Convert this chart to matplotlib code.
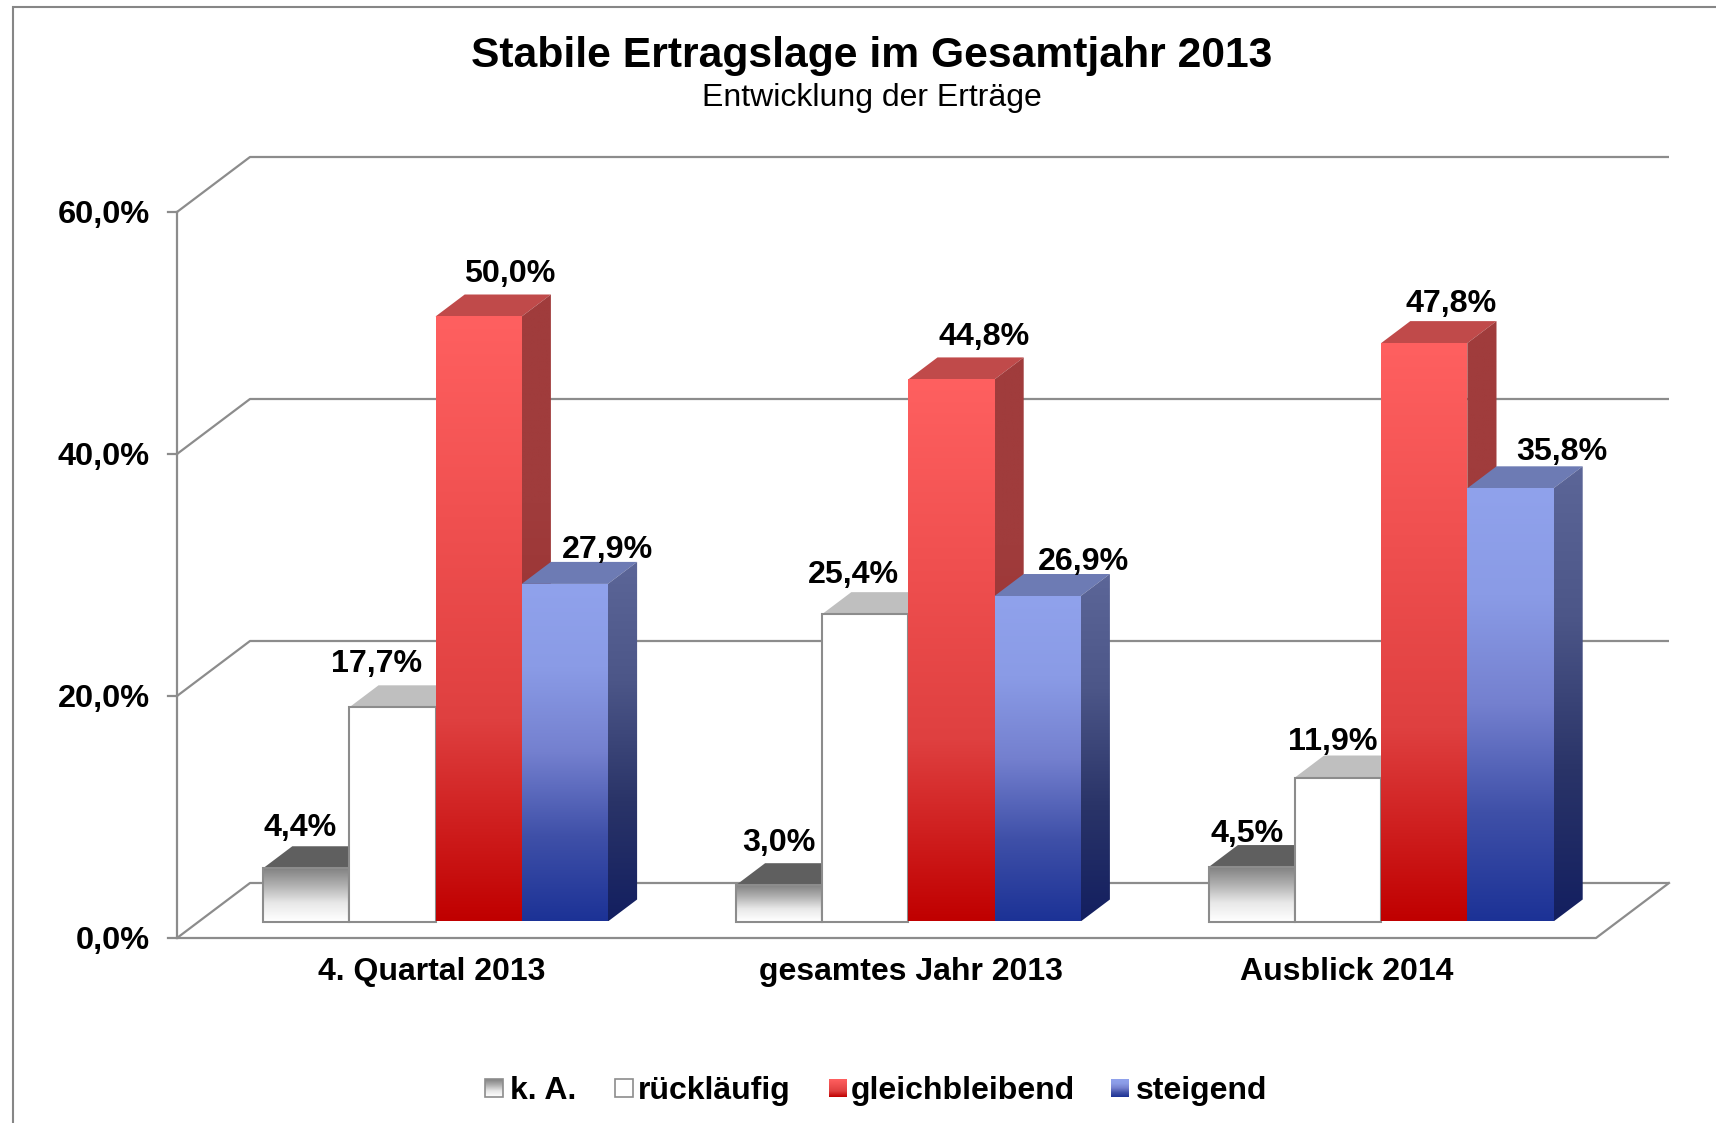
import matplotlib
matplotlib.use('Agg')
import matplotlib.pyplot as plt
import numpy as np
from matplotlib.colors import LinearSegmentedColormap
from matplotlib.patches import Polygon, Rectangle

# Werte aus dem Bild
groups = ['4. Quartal 2013', 'gesamtes Jahr 2013', 'Ausblick 2014']
series = ['k. A.', 'rückläufig', 'gleichbleibend', 'steigend']
ka = [4.4, 3.0, 4.5]
ruecklaeufig = [17.7, 25.4, 11.9]
gleichbleibend = [50.0, 44.8, 47.8]
steigend = [27.9, 26.9, 35.8]
y_ticks = [0, 20, 40, 60]
y_labels = ['0,0%', '20,0%', '40,0%', '60,0%']
values = [ka, ruecklaeufig, gleichbleibend, steigend]

# Versatz der Beschriftungen (Pixel), je Reihe und Gruppe
label_dx = [[-6, 0, -5], [-16, -12, -5], [31, 33, 27], [43, 46, 51]]
label_dy = [[40, 42, 33], [43, 39, 36], [42, 42, 39], [34, 34, 36]]

W, H = 1716, 1123
GROUP_PX = 472.8       # Abstand der Gruppen
PCT_PX = 12.1          # Pixel je Prozentpunkt
X0_PX, Y0_PX = 413.6, 938.0
BAR_W = 86.2 / GROUP_PX
DEPTH_X = 73 / GROUP_PX
DEPTH_Y = 55 / PCT_PX
Z_FRONT, Z_BACK = 0.30, 0.70

plt.rcParams['font.family'] = ['Liberation Sans', 'DejaVu Sans']
GRID = '#8c8c8c'

# stops: Farben von unten nach oben
front_cols = [
    ['#ffffff', '#e8e8e8', '#b0b0b0', '#7f7f7f'],
    ['#ffffff', '#ffffff'],
    ['#c00000', '#df4040', '#f05050', '#ff6060'],
    ['#1c3296', '#3f50a8', '#7480cf', '#8a9be6', '#90a2ec'],
]
side_cols = [
    ['#8a8a8a', '#505050'],
    ['#bfbfbf', '#bfbfbf'],
    ['#780000', '#983030', '#a03c3c', '#a03c3c'],
    ['#131f60', '#2a3468', '#4c5688', '#5c6698'],
]
top_cols = ['#5f5f5f', '#bfbfbf', '#c04a4a', '#6d7bb4']
edge_cols = [GRID, GRID, 'none', 'none']


def proj(x, y, z):
    return x + z * DEPTH_X, y + z * DEPTH_Y


def xp(px):
    return (px - X0_PX) / GROUP_PX


def yp(py):
    return (Y0_PX - py) / PCT_PX


fig = plt.figure(figsize=(W / 100, H / 100), dpi=100)
ax = fig.add_axes([0, 0, 1, 1])
ax.set_xlim(xp(0), xp(W))
ax.set_ylim(yp(H), yp(0))
ax.set_autoscale_on(False)
ax.axis('off')


def gradient(x0, x1, y0, y1, colors, clip, zorder):
    cmap = LinearSegmentedColormap.from_list('g', colors)
    grad = np.linspace(1, 0, 256).reshape(-1, 1)
    im = ax.imshow(grad, cmap=cmap, vmin=0, vmax=1, extent=(x0, x1, y0, y1),
                   aspect='auto', zorder=zorder, interpolation='bilinear')
    im.set_clip_path(clip)


# Rahmen
ax.add_patch(Rectangle((xp(13), yp(H + 20)), xp(W + 20) - xp(13), yp(7) - yp(H + 20),
                       fill=False, ec='#868686', lw=1.5, zorder=1))

# Wände und Boden
left = xp(177)
right = xp(1596)
for t, lab in zip(y_ticks, y_labels):
    bx, by = proj(left, t, 1)
    ex, ey = proj(right, t, 1)
    ax.plot([left, bx, ex], [t, by, ey], color=GRID, lw=1.6, zorder=2, solid_capstyle='butt')
    ax.plot([xp(168), left], [t, t], color=GRID, lw=1.6, zorder=2)
    ax.text(xp(150), yp(Y0_PX - t * PCT_PX + 3), lab, ha='right', va='center', fontsize=23.4,
            fontweight='bold', color='black', zorder=50)
ax.plot([left, left], [0, 60], color=GRID, lw=1.6, zorder=2)
ex, ey = proj(right, 0, 1)
ax.plot([left, right, ex], [0, 0, ey], color=GRID, lw=1.6, zorder=2)

# Balken
for g in range(len(groups)):
    for s in range(len(series)):
        v = values[s][g]
        z = 10 + g * 10 + s * 2
        x0 = g - 2 * BAR_W + s * BAR_W
        x1 = x0 + BAR_W
        fl, fb = proj(x0, 0, Z_FRONT)
        fr, _ = proj(x1, 0, Z_FRONT)
        ft = fb + v
        bl, bt = proj(x0, v, Z_BACK)
        br, bb = proj(x1, 0, Z_BACK)

        # Oberseite
        ax.add_patch(Polygon([(fl, ft), (fr, ft), (br, bt), (bl, bt)], closed=True,
                             fc=top_cols[s], ec='none', zorder=z))
        # Seite
        side = Polygon([(fr, fb), (br, bb), (br, bt), (fr, ft)], closed=True,
                       transform=ax.transData)
        gradient(fr, br, fb, bt, side_cols[s], side, z)
        # Front
        front = Polygon([(fl, fb), (fr, fb), (fr, ft), (fl, ft)], closed=True,
                        transform=ax.transData)
        gradient(fl, fr, fb, ft, front_cols[s], front, z + 0.5)
        if edge_cols[s] != 'none':
            ax.add_patch(Rectangle((fl, fb), fr - fl, ft - fb, fill=False, ec=edge_cols[s],
                                   lw=1.5, zorder=z + 1))

        ax.annotate(f'{v:.1f}%'.replace('.', ','), xy=((fl + fr) / 2, ft),
                    xytext=(label_dx[s][g], label_dy[s][g]), textcoords='offset pixels',
                    ha='center', va='center', fontsize=23.2, fontweight='bold',
                    color='black', zorder=100)

# Gruppenbeschriftung
group_px = [432, 911, 1347]
for g, name in enumerate(groups):
    ax.text(xp(group_px[g]), yp(972), name, ha='center', va='center', fontsize=23,
            fontweight='bold', color='black', zorder=50)

# Titel
ax.text(xp(872), yp(56), 'Stabile Ertragslage im Gesamtjahr 2013', ha='center', va='center',
        fontsize=30.7, fontweight='bold', color='black')
ax.text(xp(871.5), yp(98), 'Entwicklung der Erträge', ha='center', va='center',
        fontsize=23, color='black')

# Legende
swatch_px = [485, 615, 829, 1111]
text_px = [510, 638, 851, 1136]
for s, name in enumerate(series):
    x0, x1 = xp(swatch_px[s]), xp(swatch_px[s] + 18)
    y0, y1 = yp(1097), yp(1079)
    r = Polygon([(x0, y0), (x1, y0), (x1, y1), (x0, y1)], closed=True, transform=ax.transData)
    gradient(x0, x1, y0, y1, front_cols[s], r, 60)
    if edge_cols[s] != 'none':
        ax.add_patch(Rectangle((x0, y0), x1 - x0, y1 - y0, fill=False, ec=edge_cols[s],
                               lw=1.2, zorder=61))
    ax.text(xp(text_px[s]), yp(1091), name, ha='left', va='center', fontsize=23,
            fontweight='bold', color='black', zorder=61)

plt.savefig('out.png', dpi=100)
